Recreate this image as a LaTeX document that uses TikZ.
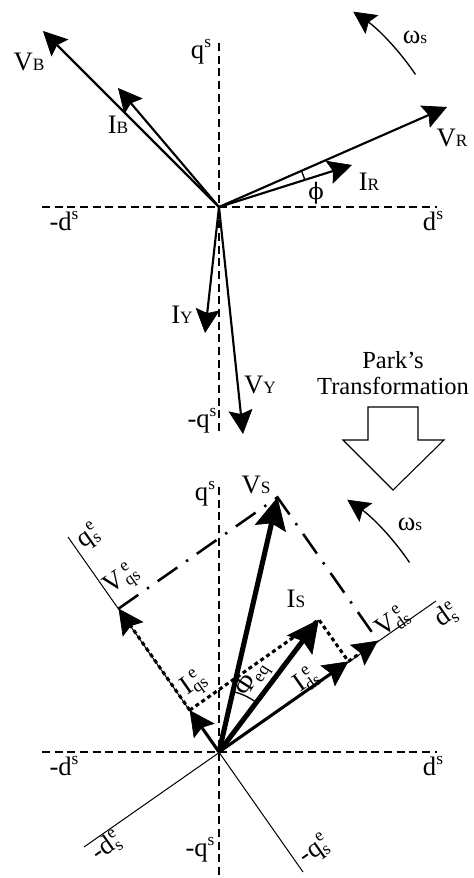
\documentclass[tikz,border=0pt]{standalone}
\usepackage{fontspec}
\setmainfont{Liberation Serif}
\newfontfamily\djv{DejaVu Serif}
\usetikzlibrary{arrows.meta}
\newcommand\sm[1]{{\fontsize{13}{13}\selectfont #1}}
\newcommand\up[1]{\raisebox{8pt}{\sm{#1}}}
\newcommand\dn[1]{\raisebox{-3pt}{\sm{#1}}}
\newcommand\both[2]{\rlap{\hspace{0.5pt}\up{#2}}\dn{#1}}
\newcommand\lblfont{\fontsize{20}{21}\selectfont}
\newcommand\parkfont{\fontsize{18.4}{20}\selectfont}
\begin{document}
\begin{tikzpicture}[x=0.75pt,y=-0.75pt,
  lbl/.style={font=\lblfont, inner sep=0pt, anchor=base},
  rlbl/.style={font=\lblfont, inner sep=0pt, anchor=center, rotate=35},
  axisd/.style={line width=0.8pt, dash pattern=on 6pt off 3.5pt},
  raxis/.style={line width=0.75pt},
  vtop/.style={line width=1.6pt, -{Stealth[length=18pt,width=18pt,inset=3pt,line width=0.5pt]}},
  vbig/.style={line width=3.8pt, -{Stealth[length=24pt,width=24pt,inset=4pt,line width=0.5pt]}},
  vmid/.style={line width=2.3pt, -{Stealth[length=19pt,width=19pt,inset=3pt,line width=0.5pt]}},
  vdot/.style={line width=2.3pt, dash pattern=on 3pt off 2.4pt, -{Stealth[length=19pt,width=19pt,inset=3pt,line width=0.5pt]}},
  dotl/.style={line width=2.3pt, dash pattern=on 3pt off 2.4pt},
  dashdot/.style={line width=1.9pt, dash pattern=on 18pt off 8pt on 1.8pt off 8pt},
  omega/.style={line width=1pt, -{Stealth[length=17pt,width=17pt,inset=3pt,line width=0.5pt]}},
  angarc/.style={line width=1pt},
]
\useasboundingbox (0,0) rectangle (474,878);
% ---------------- top diagram ----------------
\coordinate (O1) at (219,207);
\coordinate (qT) at (219,43);
\coordinate (qTb) at (219,435);
\coordinate (dTl) at (42,207);
\coordinate (dTr) at (437,207);
\draw[axisd] (dTl) -- (dTr);
\draw[axisd] (qT) -- (qTb);
\coordinate (VB) at (43,31);
\coordinate (IB) at (118,88);
\coordinate (VR) at (447,107);
\coordinate (IR) at (352,165);
\coordinate (IY) at (205,333);
\coordinate (VY) at (243,434);
\draw[vtop] (O1) -- (VB);
\draw[vtop] (O1) -- (IB);
\draw[vtop] (O1) -- (VR);
\draw[vtop] (O1) -- (IR);
\draw[vtop] (O1) -- (IY);
\draw[vtop] (O1) -- (VY);
\draw[angarc] (O1) ++(-17.5:90) arc[start angle=-17.5, end angle=-23.7, radius=90];
\draw[omega] (O1) ++(-34:237) arc[start angle=-34, end angle=-55.5, radius=237];
\node[lbl] (lVB) at (29,70) {V\sm{B}};
\node[lbl] (lIB) at (118,133) {I\sm{B}};
\node[lbl] (lVR) at (452,146) {V\sm{R}};
\node[lbl] (lIR) at (369,190) {I\sm{R}};
\node[lbl] (lIY) at (182,323) {I\sm{Y}};
\node[lbl] (lVY) at (260,393) {V\sm{Y}};
\node[font=\lblfont, inner sep=0pt] (lphi) at (316,193) {{\djv\fontsize{17}{18}\selectfont ϕ}};
\node[lbl] (lw1) at (415,43) {ω\sm{s}};
\node[lbl] (lq1) at (201,58) {q\up{s}};
\node[lbl] (lmd1) at (64,230) {-d\up{s}};
\node[lbl] (ld1) at (433,230) {d\up{s}};
\node[lbl] (lmq1) at (202,427) {-q\up{s}};
% ---------------- Park's transformation ----------------
\node[font=\parkfont, inner sep=0pt, anchor=base] (park1) at (393,368) {Park’s};
\node[font=\parkfont, inner sep=0pt, anchor=base] (park2) at (393,394) {Transformation};
\draw[line width=0.8pt] (368,407) -- (418,407) -- (418,440) -- (444,440) -- (393,490) -- (343,440) -- (368,440) -- cycle;
% ---------------- bottom diagram ----------------
\coordinate (O2) at (219,752);
\coordinate (qB1) at (219,487);
\coordinate (qB2) at (219,878);
\coordinate (dB1) at (42,752);
\coordinate (dB2) at (437,752);
\coordinate (qe1) at (68,537);
\coordinate (qe2) at (303,872);
\coordinate (de1) at (84,847);
\coordinate (de2) at (436,601);
\draw[axisd] (dB1) -- (dB2);
\draw[axisd] (qB1) -- (qB2);
\draw[raxis] (qe2) -- (qe1);
\draw[raxis] (de1) -- (de2);
\coordinate (VS) at (277.5,497.3);
\coordinate (VDS) at (377.9,640.7);
\coordinate (VQS) at (118.6,608.6);
\coordinate (IS) at (318.8,619.6);
\coordinate (IDS) at (348.4,661.4);
\coordinate (IQS) at (189.7,710.2);
\draw[dashdot] (VQS) -- (VS) -- (VDS);
\draw[dotl] (IQS) -- (IS) -- (IDS);
\draw[vdot] (IQS) -- (VQS);
\draw[vdot] (IDS) -- (VDS);
\draw[vbig] (O2) -- (VS);
\draw[vbig] (O2) -- (IS);
\draw[vmid] (O2) -- (IDS);
\draw[vmid] (O2) -- (IQS);
\draw[angarc] (O2) ++(-53:62) arc[start angle=-53, end angle=-77, radius=62];
\coordinate (C2) at (213,695);
\draw[omega] (C2) ++(-34:237) arc[start angle=-34, end angle=-55.5, radius=237];
\node[lbl] (lVS) at (256,493) {V\sm{S}};
\node[lbl] (lIS) at (296,607) {I\sm{S}};
\node[lbl] (lw2) at (410,530) {ω\sm{s}};
\node[lbl] (lq2) at (205,500) {q\up{s}};
\node[lbl] (lmd2) at (64,775) {-d\up{s}};
\node[lbl] (ld2) at (433,775) {d\up{s}};
\node[lbl] (lmq2) at (200,856) {-q\up{s}};
\node[rlbl] (lqe) at (88,537) {q\both{s}{e}};
\node[rlbl] (lde) at (446,616) {d\both{s}{e}};
\node[rlbl] (lmde) at (106,847) {-d\both{s}{e}};
\node[rlbl] (lmqe) at (314,851) {-q\both{s}{e}};
\node[rlbl] (lVqs) at (122,580) {V\rlap{\hspace{3pt}\up{e}}\dn{qs}};
\node[rlbl] (lVds) at (392,622) {V\rlap{\hspace{3pt}\up{e}}\dn{ds}};
\node[rlbl] (lIqs) at (194,684) {I\rlap{\hspace{3pt}\up{e}}\dn{qs}};
\node[rlbl] (lIds) at (306,680) {I\rlap{\hspace{3pt}\up{e}}\dn{ds}};
\node[font=\lblfont, inner sep=0pt, rotate=58] (lPhi) at (253,680) {Φ\dn{eq}};
\end{tikzpicture}
\end{document}
